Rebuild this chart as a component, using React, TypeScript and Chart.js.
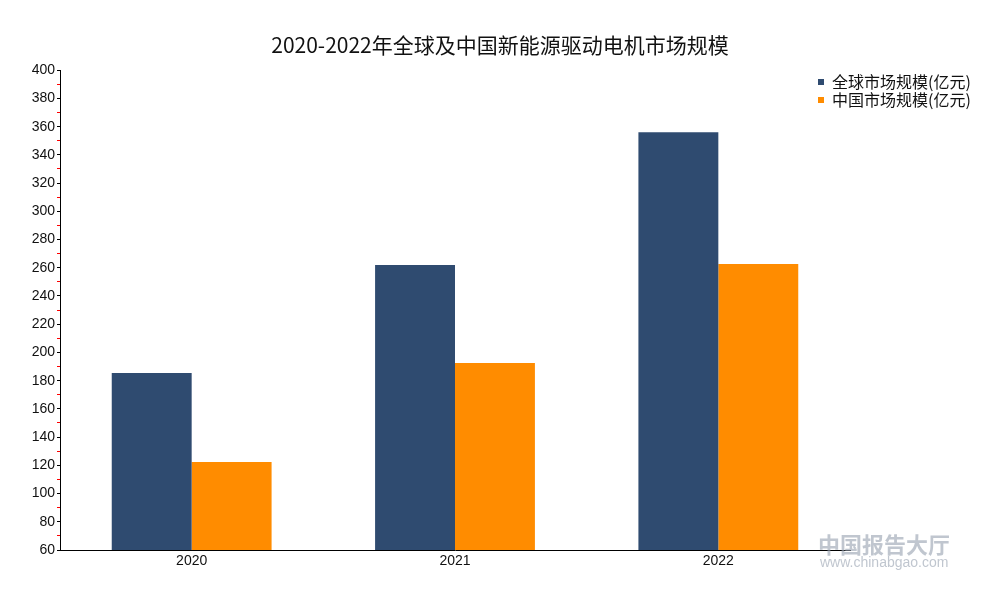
import { useEffect, useRef } from 'react';
import { Chart, registerables } from 'chart.js';

Chart.register(...registerables);

const years = ['2020', '2021', '2022'];
const globalMarket = [185.4, 262, 356];
const chinaMarket = [122.3, 192.5, 262.7];
const seriesNames = ['全球市场规模(亿元)', '中国市场规模(亿元)'];
const titleText = '2020-2022年全球及中国新能源驱动电机市场规模';

const tickFont = { family: '"Liberation Sans", Arial, sans-serif', size: 14 };
const cjkFont = '"Noto Sans CJK SC", "Liberation Sans", sans-serif';

// legend sits inside the plot, top right, and the title is centred on the whole canvas
const placeBoxes = {
  id: 'placeBoxes',
  afterLayout(chart: any) {
    const lg = chart.legend;
    if (lg) {
      const w = lg.width, h = lg.height;
      lg.left = 816;
      lg.top = 72;
      lg.right = lg.left + w;
      lg.bottom = lg.top + h;
    }
    const tb = chart.titleBlock;
    if (tb) {
      tb.left = 0;
      tb.right = chart.width;
      tb.width = chart.width;
    }
  }
};

const watermark = {
  id: 'watermark',
  afterDraw(chart: any) {
    const c = chart.ctx;
    c.save();
    c.fillStyle = 'rgba(150,160,175,0.6)';
    c.font = `bold 22px ${cjkFont}`;
    c.textBaseline = 'middle';
    c.fillText('中国报告大厅', 818, 545);
    c.font = '14px "Liberation Sans", Arial, sans-serif';
    c.fillText('www.chinabgao.com', 820, 563);
    c.restore();
  }
};

export default function App() {
  const canvasRef = useRef<HTMLCanvasElement | null>(null);

  useEffect(() => {
    const canvas = canvasRef.current;
    if (!canvas) return;
    const chart = new Chart(canvas, {
      type: 'bar',
      data: {
        labels: years,
        datasets: [
          { label: seriesNames[0], data: globalMarket, backgroundColor: '#2f4b70' },
          { label: seriesNames[1], data: chinaMarket, backgroundColor: '#ff8c00' }
        ]
      },
      options: {
        animation: false,
        responsive: true,
        maintainAspectRatio: false,
        layout: { padding: { left: 20, right: 150, top: 0, bottom: 20 } },
        datasets: { bar: { categoryPercentage: 0.607, barPercentage: 1 } },
        plugins: {
          title: {
            display: true,
            text: titleText,
            color: '#111',
            font: { family: cjkFont, size: 21, weight: 'normal' },
            padding: { top: 32, bottom: 13 }
          },
          legend: {
            position: 'chartArea',
            align: 'start',
            labels: {
              boxWidth: 6,
              boxHeight: 6,
              padding: 2,
              color: '#111',
              font: { family: cjkFont, size: 16 }
            }
          },
          tooltip: { enabled: false }
        },
        scales: {
          x: {
            grid: { display: false, drawTicks: false },
            border: { color: '#000', width: 1 },
            ticks: { color: '#111', font: tickFont, padding: 3 },
            afterFit: (s: any) => { s.height = 30; }
          },
          y: {
            min: 60,
            max: 400,
            grid: {
              drawOnChartArea: false,
              tickLength: 3,
              tickColor: (ctx: any) => (ctx.tick && ctx.tick.value % 20 === 0 ? '#000' : '#ff0000')
            },
            border: { color: '#000', width: 1 },
            ticks: {
              stepSize: 10,
              autoSkip: false,
              color: '#111',
              font: tickFont,
              padding: 2,
              callback: (v: any) => (Number(v) % 20 === 0 ? String(v) : '')
            },
            afterFit: (s: any) => { s.width = 40; }
          }
        }
      },
      plugins: [placeBoxes, watermark]
    });
    return () => chart.destroy();
  }, []);

  return (
    <div style={{ position: 'fixed', left: 0, top: 0, width: 1000, height: 600, background: '#fff' }}>
      <canvas ref={canvasRef} />
    </div>
  );
}
